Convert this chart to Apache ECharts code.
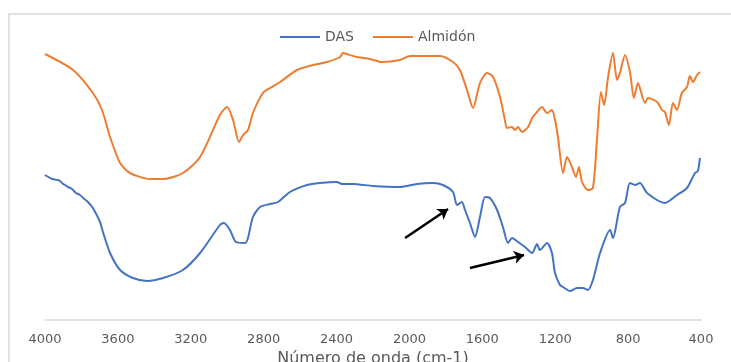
<!DOCTYPE html>
<html>
<head>
<meta charset="utf-8">
<script src="https://cdn.jsdelivr.net/npm/echarts@6/dist/echarts.min.js"></script>
<style>
  html, body { margin: 0; padding: 0; background: #fff; }
  #main { width: 731px; height: 362px; }
</style>
</head>
<body>
<div id="main"></div>
<script>
// numero de onda (cm-1) y transmitancia relativa (unidades arbitrarias)
var almidonX = [4000, 3846, 3737, 3687, 3643, 3588, 3534, 3424, 3352, 3243, 3149, 3040, 3001, 2968, 2935, 2913, 2886, 2859, 2804, 2765,
  2710, 2617, 2529, 2452, 2381, 2365, 2343, 2288, 2216, 2151, 2052, 1997, 1832, 1761, 1723, 1684, 1651, 1613, 1574, 1541,
  1503, 1476, 1465, 1437, 1421, 1404, 1382, 1349, 1327, 1300, 1273, 1245, 1218, 1201, 1185, 1157, 1135, 1108, 1086, 1070,
  1053, 1020, 993, 971, 949, 932, 910, 883, 861, 845, 817, 790, 768, 746, 707, 691, 641, 614, 598, 576,
  554, 532, 505, 477, 461, 444, 422, 406];
var almidonY = [266, 250, 227, 210, 183, 157, 147, 141, 141, 147, 163, 205, 213, 200, 178, 185, 190, 207, 227, 232,
  238, 250, 255, 258, 263, 267, 266, 263, 261, 258, 260, 264, 264, 258, 250, 230, 212, 237, 247, 243,
  223, 200, 192, 193, 190, 193, 188, 193, 202, 208, 213, 207, 210, 200, 183, 147, 163, 153, 143, 153,
  138, 130, 132, 180, 228, 215, 243, 267, 240, 247, 265, 248, 222, 237, 217, 222, 218, 210, 208, 195,
  217, 210, 227, 233, 244, 238, 245, 248];

var dasX = [4000, 3960, 3930, 3918, 3900, 3890, 3875, 3860, 3846, 3830, 3808, 3790, 3770, 3750, 3737, 3698, 3682, 3643, 3588, 3517,
  3440, 3352, 3243, 3149, 3040, 3018, 2985, 2952, 2902, 2886, 2859, 2820, 2765, 2721, 2656, 2562, 2491, 2398, 2370, 2310,
  2200, 2052, 1959, 1871, 1816, 1761, 1739, 1712, 1695, 1668, 1640, 1613, 1585, 1558, 1519, 1487, 1459, 1437, 1404, 1366,
  1327, 1300, 1284, 1245, 1218, 1201, 1174, 1157, 1119, 1081, 1048, 1020, 993, 954, 899, 883, 845, 817, 790, 762,
  735, 696, 598, 532, 477, 433, 417, 406];
var dasY = [145, 141, 140, 139, 136, 135, 133, 132, 130, 127, 125, 122, 119, 115, 112, 98, 88, 67, 50, 42,
  39, 42, 50, 67, 95, 97, 90, 78, 77, 82, 103, 113, 116, 118, 128, 135, 137, 138, 136, 136,
  134, 133, 136, 137, 135, 128, 115, 118, 110, 97, 83, 103, 123, 122, 110, 93, 77, 82, 78, 73,
  67, 76, 70, 77, 67, 47, 35, 33, 29, 32, 32, 30, 40, 67, 90, 82, 113, 117, 137, 135,
  137, 127, 117, 125, 132, 147, 149, 162];

// flechas: [x inicio, y inicio, x punta, y punta]
var flecha1 = [2024, 82, 1788, 111];
var flecha2 = [1668, 52, 1371, 65];

var ticksX = [4000, 3600, 3200, 2800, 2400, 2000, 1600, 1200, 800, 400];

function pares(xs, ys){
	var out = [];
	for(var i = 0; i < xs.length; i++){
		out.push([xs[i], ys[i]]);
	}
	return out;
}

var myChart = echarts.init(document.getElementById('main'));
var option = {
	animation: false,
	graphic: [{
		type: 'rect',
		shape: { x: 9, y: 14, width: 740, height: 400 },
		style: { fill: 'none', stroke: '#d9d9d9', lineWidth: 1.5 },
		silent: true
	}],
	legend: {
		left: 275,
		top: 25,
		icon: 'rect',
		itemWidth: 40,
		itemHeight: 2,
		itemGap: 19,
		textStyle: { color: '#595959', fontSize: 14, fontFamily: 'DejaVu Sans' },
		data: ['DAS', 'Almidón']
	},
	grid: { left: 45, right: 30, top: 20, bottom: 42, outerBoundsMode: 'none', containLabel: false },
	xAxis: {
		type: 'value',
		inverse: true,
		min: 400,
		max: 4000,
		interval: 400,
		name: 'Número de onda (cm-1)',
		nameLocation: 'middle',
		nameGap: 30,
		nameTextStyle: { color: '#595959', fontSize: 16, fontFamily: 'DejaVu Sans' },
		axisLine: { show: true, onZero: false, lineStyle: { color: '#d9d9d9', width: 1.5 } },
		axisTick: { show: false },
		splitLine: { show: false },
		axisLabel: {
			color: '#595959',
			fontSize: 13,
			fontFamily: 'DejaVu Sans',
			margin: 13,
			showMinLabel: true,
			showMaxLabel: true,
			formatter: function(val){
				return ticksX.indexOf(val) >= 0 ? String(val) : '';
			}
		}
	},
	yAxis: {
		type: 'value',
		min: 0,
		max: 300,
		show: false,
		splitLine: { show: false }
	},
	series: [{
		name: 'DAS',
		type: 'line',
		symbol: 'none',
		smooth: 0.25,
		lineStyle: { color: '#4472C4', width: 2 },
		itemStyle: { color: '#4472C4' },
		data: pares(dasX, dasY),
		markLine: {
			silent: true,
			symbol: ['none', 'arrow'],
			symbolSize: 10,
			label: { show: false },
			lineStyle: { color: '#000', width: 2.5, type: 'solid' },
			data: [
				[{ coord: [flecha1[0], flecha1[1]] }, { coord: [flecha1[2], flecha1[3]] }],
				[{ coord: [flecha2[0], flecha2[1]] }, { coord: [flecha2[2], flecha2[3]] }]
			]
		}
	}, {
		name: 'Almidón',
		type: 'line',
		symbol: 'none',
		smooth: 0.25,
		lineStyle: { color: '#ED7D31', width: 2 },
		itemStyle: { color: '#ED7D31' },
		data: pares(almidonX, almidonY)
	}]
};
myChart.setOption(option);
</script>
</body>
</html>
